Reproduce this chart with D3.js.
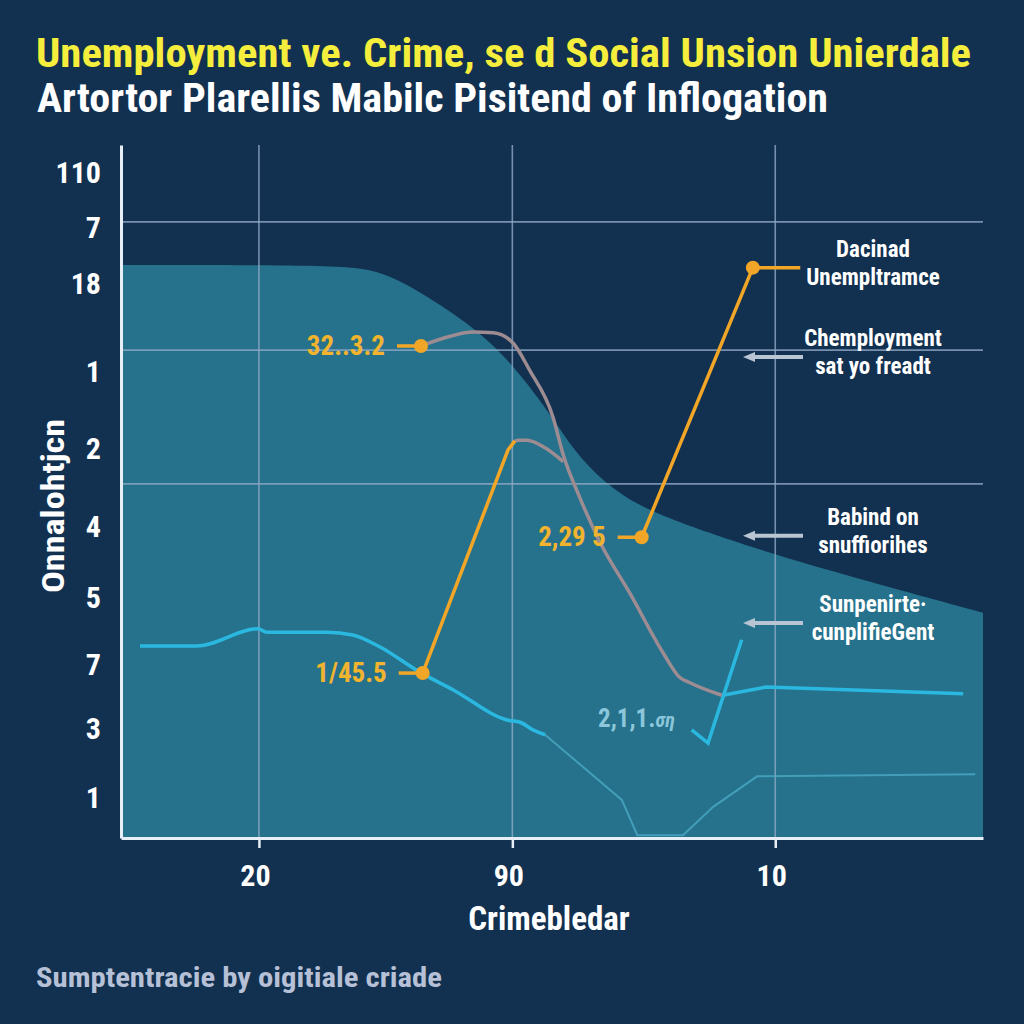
<!DOCTYPE html>
<html>
<head>
<meta charset="utf-8">
<script src="https://cdn.jsdelivr.net/npm/d3@7"></script>
<style>
  body { margin: 0; background: #12304f; }
  text { font-family: "Liberation Sans Narrow", "Roboto Condensed", "Arial Narrow", "Liberation Sans", sans-serif; font-weight: bold; }
</style>
</head>
<body>
<script>
// chart values (x and y in plot units 0..100)
var titleText = "Unemployment ve. Crime, se d Social Unsion Unierdale";
var subtitleText = "Artortor Plarellis Mabilc Pisitend of Inflogation";
var footerText = "Sumptentracie by oigitiale criade";
var xTitle = "Crimebledar";
var yTitle = "Onnalohtjcn";

var xTickValues = [16.0, 45.4, 75.9];
var xTickLabels = ["20", "90", "10"];
var yTickValues = [96.0, 88.0, 80.0, 67.2, 56.1, 44.9, 34.6, 25.0, 15.7, 5.8];
var yTickLabels = ["110", "7", "18", "1", "2", "4", "5", "7", "3", "1"];
var yGrid = [88.9, 70.4, 51.1];

// teal area
var areaX = [0, 25.1, 30.0, 34.7, 41.1, 45.1, 48.6, 50.6, 53.2, 57.1, 61.0, 64.8, 67.2, 76.2, 100];
var areaY = [82.7, 82.7, 81.9, 78.9, 73.6, 68.8, 63.2, 59.6, 54.8, 50.2, 47.4, 45.6, 44.5, 40.6, 32.5];

// cyan lines
var cyanX = [2.2, 8.8, 15.9, 16.9, 23.9, 26.9, 30.0, 34.7, 38.5, 44.9, 46.3, 47.8, 49.2];
var cyanY = [27.7, 27.7, 30.2, 29.7, 29.7, 29.3, 27.6, 23.9, 21.4, 17.0, 16.7, 15.6, 14.9];
var cyanThinX = [49.2, 50.9, 58.1, 59.9, 65.2, 68.7, 73.8, 99.1];
var cyanThinY = [14.9, 13.1, 5.5, 0.4, 0.4, 4.5, 8.9, 9.2];
var cyanCheckX = [66.2, 68.1, 72.0];
var cyanCheckY = [15.6, 13.7, 28.6];
var cyanTailX = [69.8, 74.9, 97.7];
var cyanTailY = [20.6, 21.8, 20.8];

// grey lines
var greyX = [34.8, 38.2, 40.8, 43.2, 45.5, 47.4, 50.1, 51.3, 53.2, 55.6, 59.0, 62.9, 64.8, 66.0, 69.7];
var greyY = [71.0, 72.4, 73.0, 72.9, 71.4, 67.5, 60.8, 55.3, 49.2, 42.6, 35.4, 26.7, 23.2, 22.4, 20.6];
var greyBranchX = [45.7, 46.1, 47.1, 49.2, 51.3];
var greyBranchY = [57.3, 57.4, 57.4, 56.3, 54.3];

// orange lines
var orangeAX = [35.0, 44.9, 45.7];
var orangeAY = [23.8, 56.0, 57.3];
var orangeBX = [60.4, 73.3, 78.8];
var orangeBY = [43.4, 82.3, 82.3];

// orange callouts
var calloutLabels = ["32..3.2", "1/45.5", "2,29 5"];
var calloutX = [34.8, 35.0, 60.4];
var calloutY = [71.0, 23.8, 43.4];
var cyanLabel = "2,1,1.";
var cyanLabelTail = "ση";

// right-hand notes
var noteLines = [["Dacinad", "Unempltramce"], ["Chemployment", "sat yo freadt"], ["Babind on", "snuffiorihes"], ["Sunpenirte\u00b7", "cunplifieGent"]];
var noteY = [83.8, 71.0, 45.2, 32.6];
var noteArrow = [false, true, true, true];

var W = 1024, H = 1024;
var pL = 121, pR = 983, pT = 145, pB = 838;

var svg = d3.select("body").append("svg")
  .attr("width", W).attr("height", H);

svg.append("rect").attr("width", W).attr("height", H).attr("fill", "#12304f");

var x = d3.scaleLinear().domain([0, 100]).range([pL, pR]);
var y = d3.scaleLinear().domain([0, 100]).range([pB, pT]);

function pts(xs, ys) { return xs.map(function (v, i) { return [v, ys[i]]; }); }

// area
var area = d3.area()
  .x(function (d) { return x(d[0]); })
  .y0(y(0))
  .y1(function (d) { return y(d[1]); })
  .curve(d3.curveBasis);
svg.append("path").datum(pts(areaX, areaY))
  .attr("d", area).attr("fill", "#26728c");

// grid
svg.selectAll(".hg").data(yGrid).enter().append("line")
  .attr("x1", pL).attr("x2", pR)
  .attr("y1", function (d) { return y(d); }).attr("y2", function (d) { return y(d); })
  .attr("stroke", "#8fa9c6").attr("stroke-width", 1.6).attr("opacity", 0.8);
svg.selectAll(".vg").data(xTickValues).enter().append("line")
  .attr("x1", function (d) { return x(d); }).attr("x2", function (d) { return x(d); })
  .attr("y1", pT).attr("y2", pB)
  .attr("stroke", "#8fa9c6").attr("stroke-width", 1.6).attr("opacity", 0.8);

var line = d3.line()
  .x(function (d) { return x(d[0]); })
  .y(function (d) { return y(d[1]); })
  .curve(d3.curveMonotoneX);
var lineStraight = d3.line()
  .x(function (d) { return x(d[0]); })
  .y(function (d) { return y(d[1]); });

// cyan
svg.append("path").datum(pts(cyanThinX, cyanThinY)).attr("d", lineStraight)
  .attr("fill", "none").attr("stroke", "#4fb0cc").attr("stroke-width", 2).attr("opacity", 0.7);
svg.append("path").datum(pts(cyanX, cyanY)).attr("d", line)
  .attr("fill", "none").attr("stroke", "#2bb8e0").attr("stroke-width", 3.5);
svg.append("path").datum(pts(cyanCheckX, cyanCheckY)).attr("d", lineStraight)
  .attr("fill", "none").attr("stroke", "#2bb8e0").attr("stroke-width", 3.5);
svg.append("path").datum(pts(cyanTailX, cyanTailY)).attr("d", lineStraight)
  .attr("fill", "none").attr("stroke", "#2bb8e0").attr("stroke-width", 3.5);

// grey
svg.append("path").datum(pts(greyX, greyY)).attr("d", line)
  .attr("fill", "none").attr("stroke", "#9d8c92").attr("stroke-width", 3.5);
svg.append("path").datum(pts(greyBranchX, greyBranchY)).attr("d", line)
  .attr("fill", "none").attr("stroke", "#9d8c92").attr("stroke-width", 3.5);

// orange
svg.append("path").datum(pts(orangeAX, orangeAY)).attr("d", lineStraight)
  .attr("fill", "none").attr("stroke", "#f2a628").attr("stroke-width", 3.5).attr("stroke-linejoin", "round");
svg.append("path").datum(pts(orangeBX, orangeBY)).attr("d", lineStraight)
  .attr("fill", "none").attr("stroke", "#f2a628").attr("stroke-width", 3.5).attr("stroke-linejoin", "round");
svg.append("circle").attr("cx", x(orangeBX[1])).attr("cy", y(orangeBY[1])).attr("r", 7).attr("fill", "#f2a628");

var co = svg.selectAll(".co").data(calloutLabels).enter().append("g");
co.append("line")
  .attr("x1", function (d, i) { return x(calloutX[i]) - 24; })
  .attr("x2", function (d, i) { return x(calloutX[i]); })
  .attr("y1", function (d, i) { return y(calloutY[i]); })
  .attr("y2", function (d, i) { return y(calloutY[i]); })
  .attr("stroke", "#f2a628").attr("stroke-width", 3.5);
co.append("circle")
  .attr("cx", function (d, i) { return x(calloutX[i]); })
  .attr("cy", function (d, i) { return y(calloutY[i]); })
  .attr("r", 7).attr("fill", "#f2a628");
co.append("text")
  .attr("x", function (d, i) { return x(calloutX[i]) - 36; })
  .attr("y", function (d, i) { return y(calloutY[i]) + 9; })
  .attr("text-anchor", "end").attr("font-size", 27).attr("fill", "#f2b42e")
  .text(function (d) { return d; });

var cl = svg.append("text").attr("x", 598).attr("y", 727)
  .attr("font-size", 25).attr("fill", "#8bc6da");
cl.append("tspan").text(cyanLabel);
cl.append("tspan").attr("font-style", "italic").attr("font-size", 20).text(cyanLabelTail);

// notes
var nt = svg.selectAll(".note").data(noteLines).enter().append("g");
nt.append("text")
  .attr("x", 873)
  .attr("y", function (d, i) { return y(noteY[i]); })
  .attr("text-anchor", "middle").attr("font-size", 23).attr("fill", "#ffffff")
  .selectAll("tspan").data(function (d) { return d; }).enter().append("tspan")
  .attr("x", 873).attr("dy", function (d, j) { return j === 0 ? 0 : 28; })
  .text(function (d) { return d; });
nt.filter(function (d, i) { return noteArrow[i]; }).append("line")
  .attr("x1", 803).attr("x2", 752)
  .attr("y1", function (d) { return y(noteY[noteLines.indexOf(d)]) + 11; })
  .attr("y2", function (d) { return y(noteY[noteLines.indexOf(d)]) + 11; })
  .attr("stroke", "#b9c5d3").attr("stroke-width", 4);
nt.filter(function (d, i) { return noteArrow[i]; }).append("path")
  .attr("d", function (d) {
    var yy = y(noteY[noteLines.indexOf(d)]) + 11;
    return "M743," + yy + "L755," + (yy - 5) + "L755," + (yy + 5) + "Z";
  })
  .attr("fill", "#b9c5d3");

// axes
var xAxis = svg.append("g").attr("transform", "translate(0," + pB + ")")
  .call(d3.axisBottom(x).tickValues(xTickValues).tickSize(10).tickSizeOuter(0).tickPadding(17)
    .tickFormat(function (d, i) { return xTickLabels[i]; }));
xAxis.select(".domain").attr("stroke", "#e8eef5").attr("stroke-width", 3);
xAxis.selectAll(".tick line").attr("stroke", "#e8eef5").attr("stroke-width", 2.5);
xAxis.selectAll(".tick text").attr("fill", "#ffffff").attr("font-size", 30).attr("dx", -4);

var yAxis = svg.append("g").attr("transform", "translate(" + pL + ",0)")
  .call(d3.axisLeft(y).tickValues(yTickValues).tickSize(0).tickSizeOuter(0).tickPadding(20)
    .tickFormat(function (d, i) { return yTickLabels[i]; }));
yAxis.select(".domain").attr("stroke", "#e8eef5").attr("stroke-width", 3);
yAxis.selectAll(".tick text").attr("fill", "#ffffff").attr("font-size", 30);
xAxis.attr("font-family", null).attr("font-size", null);
yAxis.attr("font-family", null).attr("font-size", null);

// titles
svg.append("text").attr("x", 36).attr("y", 67).attr("font-size", 41).attr("fill", "#f6ee3c")
  .attr("textLength", 935).attr("lengthAdjust", "spacingAndGlyphs").text(titleText);
svg.append("text").attr("x", 37).attr("y", 112).attr("font-size", 40).attr("fill", "#ffffff")
  .attr("textLength", 791).attr("lengthAdjust", "spacingAndGlyphs").text(subtitleText);
svg.append("text").attr("x", 549).attr("y", 930).attr("text-anchor", "middle").attr("font-size", 33).attr("fill", "#ffffff")
  .text(xTitle);
svg.append("text").attr("transform", "translate(64,506) rotate(-90)").attr("text-anchor", "middle")
  .attr("font-size", 32).attr("fill", "#ffffff")
  .attr("textLength", 174).attr("lengthAdjust", "spacingAndGlyphs").text(yTitle);
svg.append("text").attr("x", 36).attr("y", 987).attr("font-size", 27).attr("fill", "#b6c0d6")
  .attr("textLength", 406).attr("lengthAdjust", "spacingAndGlyphs").text(footerText);
</script>
</body>
</html>
